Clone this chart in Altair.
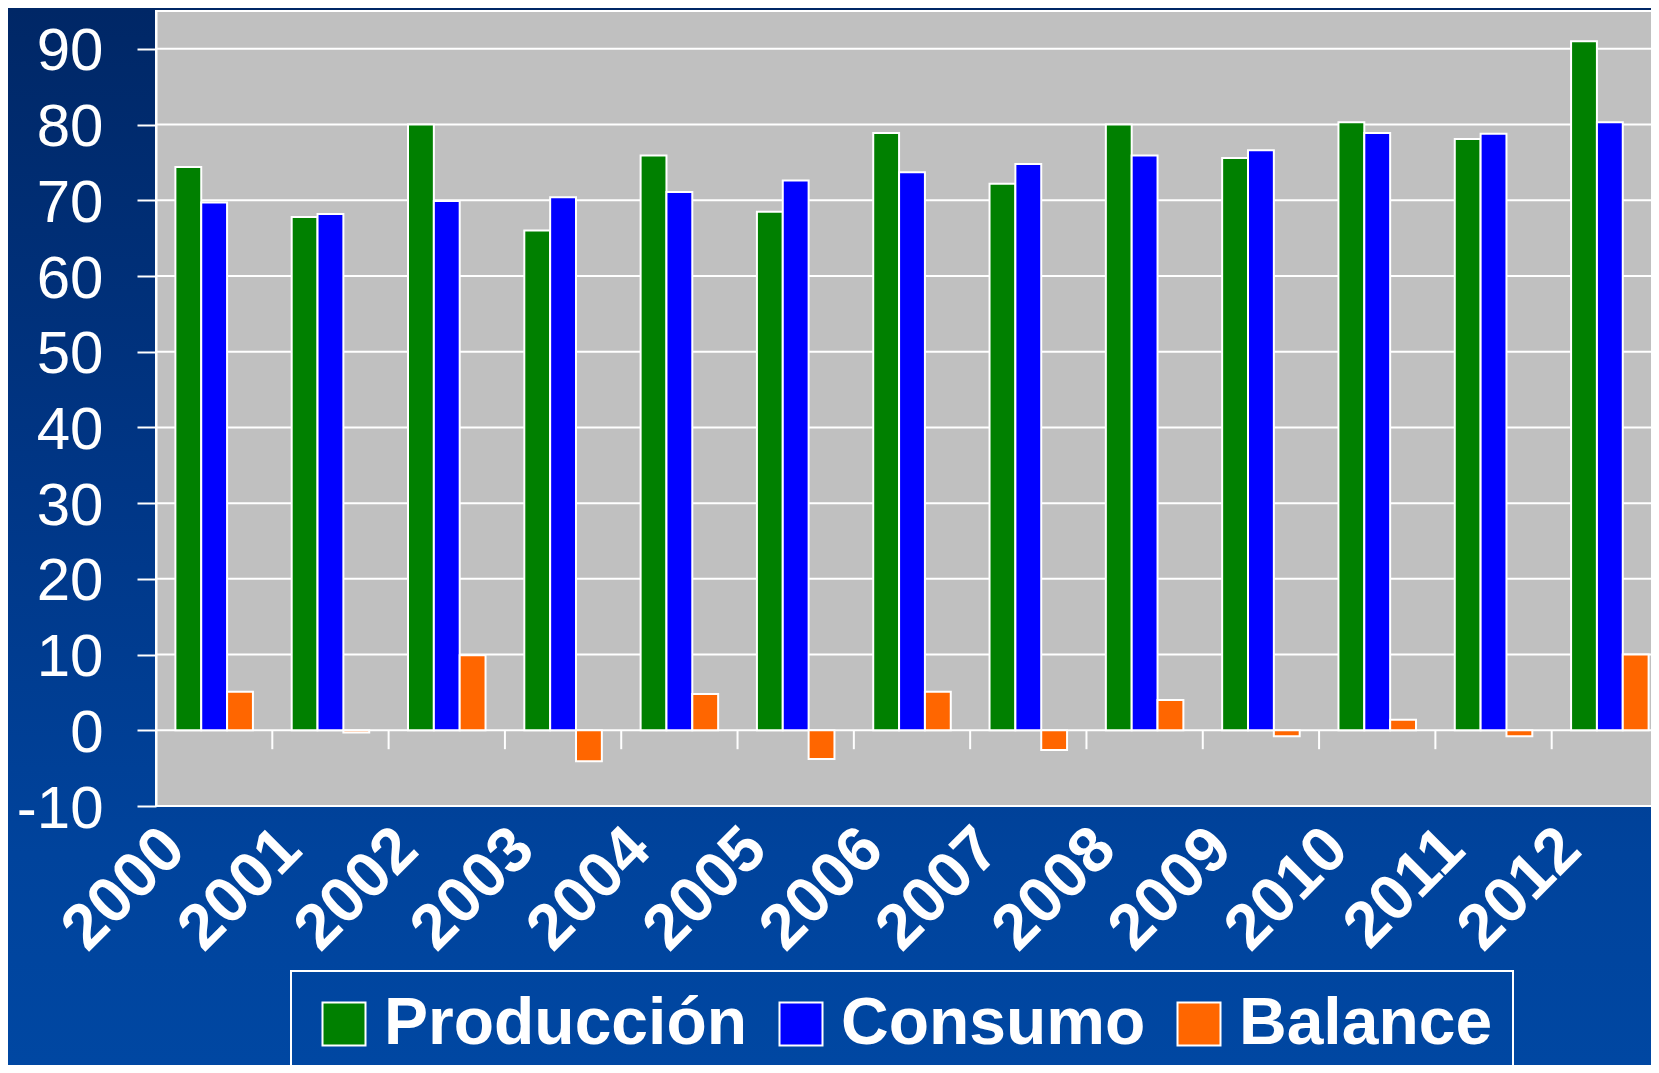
import altair as alt
import pandas as pd

# ---- data ----
years = [str(y) for y in range(2000, 2013)]
produccion = [74.4, 67.8, 80.0, 66.0, 75.9, 68.5, 78.9, 72.2, 80.0, 75.6, 80.3, 78.1, 91.0]
consumo = [69.7, 68.2, 69.9, 70.4, 71.1, 72.6, 73.7, 74.8, 75.9, 76.6, 78.9, 78.8, 80.3]
balance = [5.1, -0.3, 9.9, -4.1, 4.8, -3.8, 5.1, -2.6, 4.0, -0.8, 1.4, -0.8, 10.0]
series = ["Producción", "Consumo", "Balance"]
colors = ["#008000", "#0000FF", "#FF6600"]
y_ticks = list(range(-10, 100, 10))
grid_values = list(range(0, 100, 10))
boundary_years = years[1:]

rows = []
for i, yr in enumerate(years):
    for s, vals in zip(series, [produccion, consumo, balance]):
        rows.append({"year": yr, "serie": s, "valor": vals[i]})
df = pd.DataFrame(rows)

W, H = 1512, 795
PAD_L, PAD_T, PAD_B, PAD_R = 148, 3, 259, -17

FONT = "Liberation Sans"
yscale = alt.Scale(domain=[-10, 95], nice=False, zero=False)
xscale = alt.Scale(paddingInner=0, paddingOuter=0)

xaxis = alt.Axis(
    title=None, labelAngle=-45, labelAlign="right", labelBaseline="top",
    labelFont=FONT, labelFontWeight="bold", labelFontSize=64, labelColor="white",
    labelPadding=10, labelOffset=-62, ticks=False, tickSize=0, domain=False,
    grid=False, labelOverlap=False, labelBound=False, zindex=1,
)
yaxis = alt.Axis(
    title=None, values=y_ticks, labelExpr="'' + datum.value",
    labelFont=FONT, labelFontSize=60, labelColor="white", labelPadding=34, labelOffset=3,
    tickColor="white", tickSize=19, tickWidth=2, domainColor="white", domainWidth=2,
    grid=False, zindex=1,
)

one = pd.DataFrame({"a": [0]})

bg = alt.Chart(one).mark_rect(
    fill=alt.Gradient(
        gradient="linear",
        stops=[
            alt.GradientStop(offset=0, color="#002766"),
            alt.GradientStop(offset=0.45, color="#003686"),
            alt.GradientStop(offset=0.8, color="#00439C"),
            alt.GradientStop(offset=1, color="#0047A2"),
        ],
        x1=0, x2=0, y1=0, y2=1,
    )
).encode(x=alt.value(-PAD_L), x2=alt.value(W), y=alt.value(-PAD_T), y2=alt.value(H + PAD_B))

plot_bg = alt.Chart(one).mark_rect(fill="#C0C0C0", stroke="white", strokeWidth=2).encode(
    x=alt.value(0), x2=alt.value(W), y=alt.value(0), y2=alt.value(H)
)

grid = alt.Chart(pd.DataFrame({"valor": grid_values})).mark_rule(color="white", strokeWidth=2).encode(
    y=alt.Y("valor:Q", scale=yscale, axis=yaxis)
)

ticks_df = pd.DataFrame({"year": boundary_years, "valor": [0] * len(boundary_years), "v2": [-2.5] * len(boundary_years)})
xticks = alt.Chart(ticks_df).mark_rule(color="white", strokeWidth=2).encode(
    x=alt.X("year:N", bandPosition=0, scale=xscale, axis=xaxis),
    y=alt.Y("valor:Q", scale=yscale, axis=yaxis),
    y2="v2:Q",
)

bars = alt.Chart(df).mark_bar(stroke="white", strokeWidth=2, opacity=1).encode(
    x=alt.X("year:N", scale=xscale, axis=xaxis),
    xOffset=alt.XOffset("serie:N", sort=series, scale=alt.Scale(domain=series, paddingOuter=0.75, paddingInner=0)),
    y=alt.Y("valor:Q", scale=yscale, stack=None, axis=yaxis),
    y2=alt.datum(0),
    color=alt.Color(
        "serie:N",
        scale=alt.Scale(domain=series, range=colors),
        sort=series,
        legend=alt.Legend(
            title=None, orient="none", legendX=135, legendY=960, direction="horizontal",
            symbolType="square", symbolSize=1849, symbolStrokeColor="white", symbolStrokeWidth=2,
            symbolOpacity=1, labelFont=FONT, labelFontWeight="bold", labelFontSize=66,
            labelColor="white", labelOffset=7, columnPadding=20, padding=20,
            strokeColor="white", labelLimit=800, zindex=1,
        ),
    ),
)

chart = (
    alt.layer(bg, plot_bg, grid, xticks, bars)
    .properties(
        width=W, height=H,
        autosize=alt.AutoSizeParams(type="none"),
        padding={"left": PAD_L, "top": PAD_T, "right": PAD_R, "bottom": PAD_B},
        background="#00398B",
    )
    .configure_view(stroke=None)
    .configure_legend(strokeWidth=2)
)

chart.save("out.html", embed_options={"renderer": "svg", "actions": False})
